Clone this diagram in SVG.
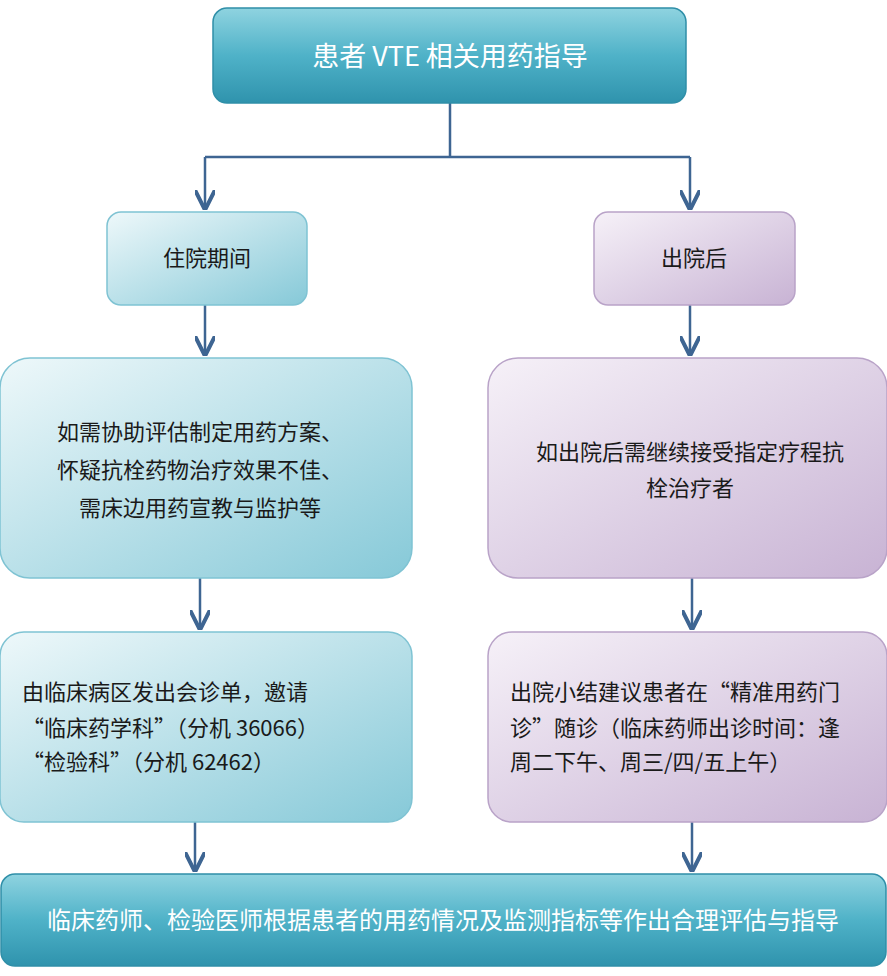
<svg xmlns="http://www.w3.org/2000/svg" width="887" height="976" viewBox="0 0 887 976">
<defs>
<linearGradient id="teal" x1="0" y1="0" x2="0" y2="1"><stop offset="0" stop-color="#8fd3e0"/><stop offset="0.5" stop-color="#4fb2c8"/><stop offset="1" stop-color="#2f93ad"/></linearGradient>
<linearGradient id="blue" x1="0" y1="0" x2="1" y2="1"><stop offset="0" stop-color="#eef8fa"/><stop offset="1" stop-color="#86c9d8"/></linearGradient>
<linearGradient id="purple" x1="0" y1="0" x2="1" y2="1"><stop offset="0" stop-color="#f6f1f8"/><stop offset="1" stop-color="#c8b3d4"/></linearGradient>
<marker id="arr" viewBox="0 0 10 10" refX="9" refY="5" markerWidth="8" markerHeight="8" orient="auto"><path d="M0,0 L10,5 L0,10" fill="none" stroke="#3e6592" stroke-width="2"/></marker>
</defs>
<style>
.t{font-family:"Noto Sans CJK SC","Liberation Serif",serif;font-size:22px;fill:#1a1a1a;text-anchor:middle}
.w{fill:#fff}
.c{stroke:#3e6592;stroke-width:2.5;fill:none}
.bl{fill:url(#blue);stroke:#7fc3d3;stroke-width:1.5}
.pu{fill:url(#purple);stroke:#b9a3c8;stroke-width:1.5}
.tl{fill:url(#teal);stroke:#2f8fa8;stroke-width:1.5}
</style>
<rect width="887" height="976" fill="#fff"/>
<g id="connectors">
<path class="c" d="M450,103 V157 M205,157 H690"/>
<path class="c" d="M205,157 V208" marker-end="url(#arr)"/>
<path class="c" d="M690,157 V208" marker-end="url(#arr)"/>
<path class="c" d="M205,305 V354" marker-end="url(#arr)"/>
<path class="c" d="M690,305 V354" marker-end="url(#arr)"/>
<path class="c" d="M200,578 V628" marker-end="url(#arr)"/>
<path class="c" d="M692,578 V628" marker-end="url(#arr)"/>
<path class="c" d="M195,822 V870" marker-end="url(#arr)"/>
<path class="c" d="M692,822 V870" marker-end="url(#arr)"/>
</g>
<g id="top"><rect class="tl" x="213" y="8" width="473" height="95" rx="14"/><text class="t w" x="450" y="66" style="font-size:27px">患者 VTE 相关用药指导</text></g>
<g id="inpatient"><rect class="bl" x="107" y="212" width="200" height="93" rx="14"/><text class="t" x="207" y="266">住院期间</text></g>
<g id="discharge"><rect class="pu" x="594" y="212" width="201" height="93" rx="14"/><text class="t" x="694" y="266">出院后</text></g>
<g id="left1"><rect class="bl" x="0" y="358" width="412" height="220" rx="30"/>
<text class="t" x="200" y="440">如需协助评估制定用药方案、</text><text class="t" x="200" y="478">怀疑抗栓药物治疗效果不佳、</text><text class="t" x="200" y="516">需床边用药宣教与监护等</text></g>
<g id="right1"><rect class="pu" x="488" y="358" width="399" height="220" rx="30"/>
<text class="t" x="690" y="460">如出院后需继续接受指定疗程抗</text><text class="t" x="690" y="496">栓治疗者</text></g>
<g id="left2"><rect class="bl" x="0" y="632" width="412" height="190" rx="24"/>
<text x="22" y="700" class="t" style="text-anchor:start">由临床病区发出会诊单，邀请</text><text x="22" y="736" class="t" style="text-anchor:start">“临床药学科”（分机 36066）</text><text x="22" y="770" class="t" style="text-anchor:start">“检验科”（分机 62462）</text></g>
<g id="right2"><rect class="pu" x="488" y="632" width="399" height="190" rx="24"/>
<text x="510" y="700" class="t" style="text-anchor:start">出院小结建议患者在“精准用药门</text><text x="510" y="736" class="t" style="text-anchor:start">诊”随诊（临床药师出诊时间：逢</text><text x="510" y="770" class="t" style="text-anchor:start">周二下午、周三/四/五上午）</text></g>
<g id="bottom"><rect class="tl" x="1" y="874" width="885" height="92" rx="14"/><text class="t w" x="443" y="929" style="font-size:24px">临床药师、检验医师根据患者的用药情况及监测指标等作出合理评估与指导</text></g>
</svg>
